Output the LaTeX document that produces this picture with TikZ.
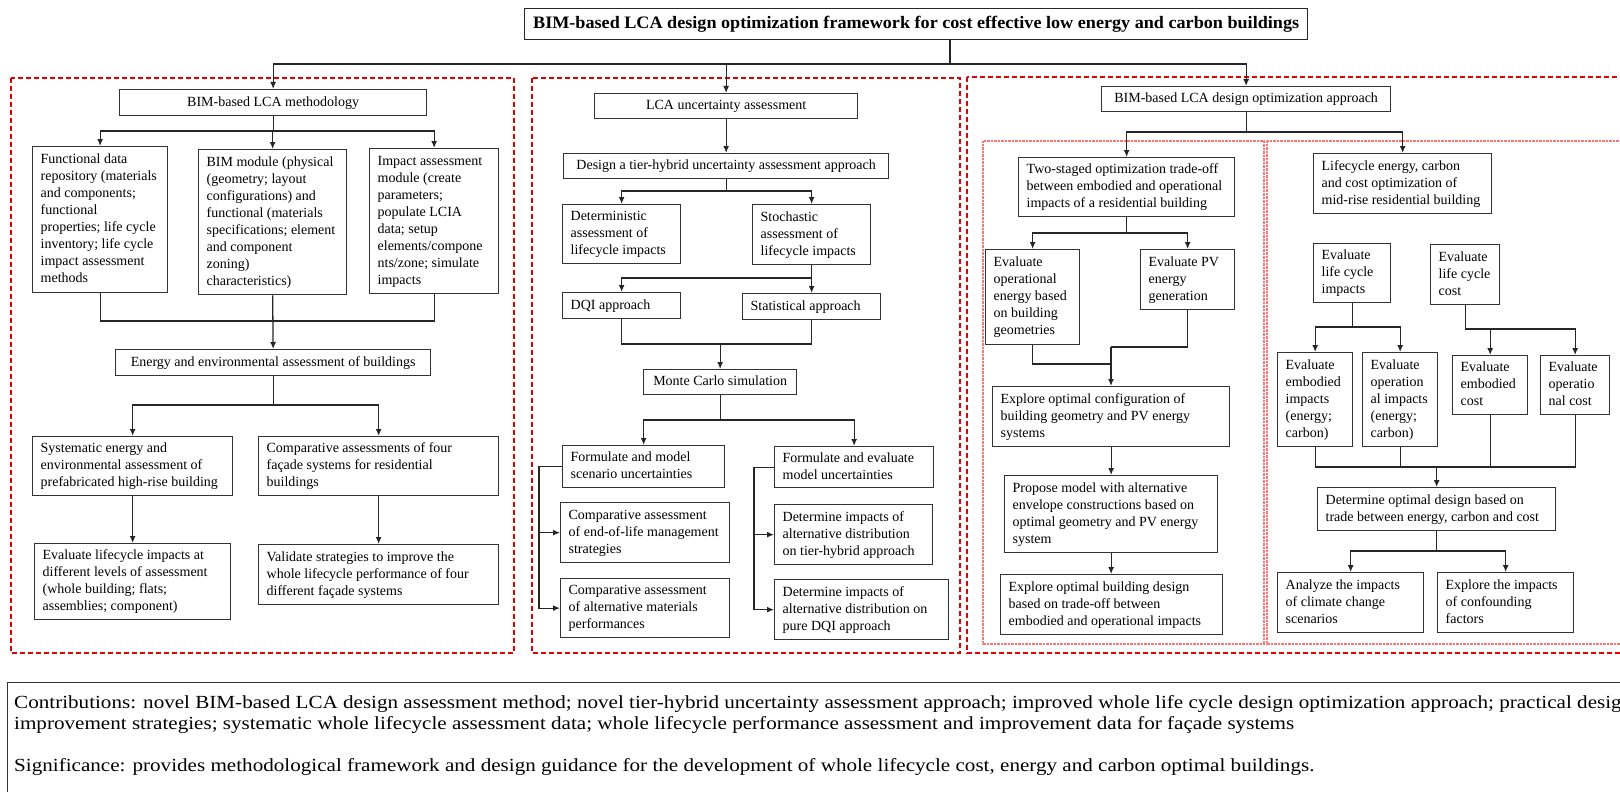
\documentclass[tikz,border=0pt]{standalone}
\usepackage{fontspec}
\setmainfont{Liberation Serif}
\usepackage{graphicx}
\usetikzlibrary{arrows.meta}
\newlength\lenA
\newlength\lenB
\newcommand\titlefont{\fontsize{17.5}{20}\selectfont\bfseries}
\newcommand\bottomfont{\fontsize{18.5}{21}\selectfont}
\newcommand\bx[7][l]{%
  \pgfmathsetmacro\myBW{#5-#3}%
  \pgfmathsetmacro\myBH{#6-#4}%
  \pgfmathsetmacro\myTW{#5-#3-16}%
  \node[box,minimum width=\myBW pt,minimum height=\myBH pt,anchor=north west] (#2) at (#3,#4)
    {\makebox[\myTW pt][#1]{\begin{tabular}{@{}#1@{}}#7\end{tabular}}};}
\begin{document}
\settowidth\lenA{\titlefont BIM-based LCA design optimization framework for cost effective low energy and carbon buildings}%
\pgfmathsetmacro\tfac{766/\lenA}%
\settowidth\lenB{\bottomfont improvement strategies; systematic whole lifecycle assessment data; whole lifecycle performance assessment and improvement data for façade systems}%
\pgfmathsetmacro\bfac{1280/\lenB}%
\begin{tikzpicture}[x=1pt,y=-1pt,
  box/.style={draw=black!80,line width=1.3pt,inner sep=0pt,font=\fontsize{14}{17}\selectfont},
  ln/.style={line width=1.3pt,draw=black!85},
  arr/.style={ln,-{Latex[length=7pt,width=6pt]}},
  reddash/.style={draw=red!90!black,line width=1.3pt,dash pattern=on 5pt off 3pt},
  reddot/.style={draw=red!55,line width=2.2pt,dash pattern=on 0.7pt off 0.7pt}]
\useasboundingbox (0,0) rectangle (1620,792);
\fill[white] (0,0) rectangle (1620,792);

% frames
\draw[reddash] (11,78) rectangle (514,653);
\draw[reddash] (532,78) rectangle (960,653);
\draw[reddash] (967,77) rectangle (1640,653);
\draw[reddot] (983,141) rectangle (1264,644);
\draw[reddot] (1267,141) rectangle (1640,644);

% title
\node[draw=black!85,line width=1.3pt,minimum width=783pt,minimum height=31pt,inner sep=0,anchor=north west] (title) at (524,8)
  {\scalebox{\tfac}[1]{\titlefont BIM-based LCA design optimization framework for cost effective low energy and carbon buildings}};

% left column
\bx[c]{l0}{119}{89}{426}{115}{BIM-based LCA methodology}
\bx{l1}{32}{146}{167}{292}{Functional data\\repository (materials\\and components;\\functional\\properties; life cycle\\inventory; life cycle\\impact assessment\\methods}
\bx{l2}{198}{149}{346}{294}{BIM module (physical\\(geometry; layout\\configurations)  and\\functional (materials\\specifications; element\\and component\\zoning)\\characteristics)}
\bx{l3}{369}{148}{498}{293}{Impact assessment\\module (create\\parameters;\\populate LCIA\\data; setup\\elements/compone\\nts/zone; simulate\\impacts}
\bx[c]{l4}{115}{349}{430}{375}{Energy and environmental assessment of buildings}
\bx{l5}{32}{436}{232}{495}{Systematic energy and\\environmental assessment of\\prefabricated high-rise building}
\bx{l6}{258}{436}{498}{495}{Comparative assessments of four\\façade systems for residential\\buildings}
\bx{l7}{34}{543}{230}{619}{Evaluate lifecycle impacts at\\different levels of assessment\\(whole building; flats;\\assemblies; component)}
\bx{l8}{258}{544}{498}{604}{Validate strategies to improve the\\whole lifecycle performance of four\\different façade systems}

% middle column
\bx[c]{m0}{594}{93}{857}{118}{LCA uncertainty assessment}
\bx[c]{m1}{563}{153}{888}{178}{Design a tier-hybrid uncertainty assessment approach}
\bx{m2}{562}{204}{680}{263}{Deterministic\\assessment of\\lifecycle impacts}
\bx{m3}{752}{204}{870}{264}{Stochastic\\assessment of\\lifecycle impacts}
\bx{m4}{562}{292}{680}{318}{DQI approach}
\bx{m5}{742}{293}{880}{319}{Statistical approach}
\bx[c]{m6}{643}{369}{796}{394}{Monte Carlo simulation}
\bx{m7}{562}{445}{724}{487}{Formulate and model\\scenario uncertainties}
\bx{m8}{774}{446}{933}{487}{Formulate and evaluate\\model uncertainties}
\bx{m9}{560}{502}{729}{562}{Comparative assessment\\of end-of-life management\\strategies}
\bx{m10}{560}{578}{729}{637}{Comparative assessment\\of alternative materials\\performances}
\bx{m11}{774}{504}{932}{564}{Determine impacts of\\alternative distribution\\on tier-hybrid approach}
\bx{m12}{774}{579}{948}{639}{Determine impacts of\\alternative distribution on\\pure DQI approach}

% right part
\bx[c]{r0}{1101}{86}{1390}{111}{BIM-based LCA design optimization approach}
\bx{r1}{1018}{157}{1234}{216}{Two-staged optimization trade-off\\between embodied and operational\\impacts of a residential building}
\bx{r2}{985}{249}{1079}{344}{Evaluate\\operational\\energy based\\on building\\geometries}
\bx{r3}{1140}{249}{1234}{309}{Evaluate PV\\energy\\generation}
\bx{r4}{992}{386}{1229}{446}{Explore optimal configuration of\\building geometry and PV energy\\systems}
\bx{r5}{1004}{475}{1217}{552}{Propose model with alternative\\envelope constructions based on\\optimal geometry and PV energy\\system}
\bx{r6}{1000}{574}{1222}{634}{Explore optimal building design\\based on trade-off between\\embodied and operational impacts}
\bx{s0}{1313}{153}{1491}{213}{Lifecycle energy, carbon\\and cost optimization of\\mid-rise residential building}
\bx{s1}{1313}{243}{1390}{302}{Evaluate\\life cycle\\impacts}
\bx{s2}{1430}{244}{1499}{304}{Evaluate\\life cycle\\cost}
\bx{s3}{1277}{352}{1352}{446}{Evaluate\\embodied\\impacts\\(energy;\\carbon)}
\bx{s4}{1362}{352}{1437}{446}{Evaluate\\operation\\al impacts\\(energy;\\carbon)}
\bx{s5}{1452}{355}{1527}{414}{Evaluate\\embodied\\cost}
\bx{s6}{1540}{355}{1609}{414}{Evaluate\\operatio\\nal cost}
\bx{s7}{1317}{487}{1555}{530}{Determine optimal design based on\\trade between energy, carbon and cost}
\bx{s8}{1277}{572}{1423}{632}{Analyze the impacts\\of climate change\\scenarios}
\bx{s9}{1437}{572}{1573}{632}{Explore the impacts\\of confounding\\factors}

% top connectors
\coordinate (tj) at (950,64);
\draw[ln] (title.south -| tj) -- (tj);
\draw[arr] (tj) -| (l0.north);
\draw[arr] (tj) -| (m0.north);
\draw[arr] (tj) -| (r0.north);

% left connectors
\coordinate (lb1) at (272,131);
\draw[ln] (l0.south) -- (l0.south |- lb1);
\draw[arr] (l0.south |- lb1) -| (l1.north);
\draw[arr] (l2.north |- lb1) -- (l2.north);
\draw[arr] (l0.south |- lb1) -| (l3.north);
\coordinate (lj1) at (272,321);
\draw[ln] (l1.south) |- (lj1);
\draw[ln] (l3.south) |- (lj1);
\draw[arr] (l2.south) -- (l4.north);
\coordinate (lb2) at (272,405);
\draw[ln] (l4.south) -- (l4.south |- lb2);
\draw[arr] (l4.south |- lb2) -| (l5.north);
\draw[arr] (l4.south |- lb2) -| (l6.north);
\draw[arr] (l5.south) -- (l7.north);
\draw[arr] (l6.south) -- (l8.north);

% middle connectors
\draw[arr] (m0.south) -- (m1.north);
\coordinate (mb1) at (725,191);
\draw[ln] (m1.south) -- (m1.south |- mb1);
\draw[arr] (m1.south |- mb1) -| (m2.north);
\draw[arr] (m1.south |- mb1) -| (m3.north);
\coordinate (mb2) at (811,278);
\draw[arr] (m3.south) -- (m5.north);
\draw[arr] (m3.south |- mb2) -| (m4.north);
\coordinate (mj) at (719,344);
\draw[ln] (m4.south) |- (mj);
\draw[ln] (m5.south) |- (mj);
\draw[arr] (m6.north |- mj) -- (m6.north);
\coordinate (mb3) at (719,420);
\draw[ln] (m6.south) -- (m6.south |- mb3);
\draw[arr] (m6.south |- mb3) -| (m7.north);
\draw[arr] (m6.south |- mb3) -| (m8.north);
\coordinate (bl) at (539,466);
\coordinate (br) at (754,466);
\draw[arr] (m7.west) -- (m7.west -| bl) |- (m10.west);
\draw[arr] (m9.west -| bl) -- (m9.west);
\draw[arr] (m8.west) -- (m8.west -| br) |- (m12.west);
\draw[arr] (m11.west -| br) -- (m11.west);

% right connectors
\coordinate (rb1) at (1246,132);
\draw[ln] (r0.south) -- (r0.south |- rb1);
\draw[arr] (r0.south |- rb1) -| (r1.north);
\draw[arr] (r0.south |- rb1) -| (s0.north);
\coordinate (rb2) at (1126,233);
\draw[ln] (r1.south) -- (r1.south |- rb2);
\draw[arr] (r1.south |- rb2) -| (r2.north);
\draw[arr] (r1.south |- rb2) -| (r3.north);
\coordinate (rj1) at (1111,364);
\coordinate (rj2) at (1111,347);
\draw[ln] (r2.south) |- (rj1);
\draw[ln] (r3.south) |- (rj2);
\draw[arr] (rj2) -- (rj2 |- r4.north);
\draw[arr] (r4.south) -- (r5.north);
\draw[arr] (r5.south) -- (r5.south |- r6.north);

\coordinate (sb1) at (0,327);
\draw[ln] (s1.south) -- (s1.south |- sb1);
\draw[arr] (s1.south |- sb1) -| (s3.north);
\draw[arr] (s1.south |- sb1) -| (s4.north);
\coordinate (sb2) at (0,329);
\draw[ln] (s2.south) -- (s2.south |- sb2);
\draw[arr] (s2.south |- sb2) -| (s5.north);
\draw[arr] (s2.south |- sb2) -| (s6.north);
\coordinate (sj) at (1436,467);
\draw[ln] (s3.south) |- (sj);
\draw[ln] (s6.south) |- (sj);
\draw[ln] (s4.south) -- (s4.south |- sj);
\draw[ln] (s5.south) -- (s5.south |- sj);
\draw[arr] (s7.north |- sj) -- (s7.north);
\coordinate (sb3) at (0,551);
\draw[ln] (s7.south) -- (s7.south |- sb3);
\draw[arr] (s7.south |- sb3) -| (s8.north);
\draw[arr] (s7.south |- sb3) -| (s9.north);

% bottom box
\node[draw=black!80,line width=1.3pt,anchor=north west,minimum width=1700pt,minimum height=150pt,inner sep=0] (contrib) at (7,682) {};
\node[anchor=base west,inner sep=0,font=\bottomfont] (c1) at (14,708) {\scalebox{\bfac}[1]{Contributions: novel BIM-based LCA design assessment method; novel tier-hybrid uncertainty assessment approach; improved whole life cycle design optimization approach; practical design}};
\node[anchor=base west,inner sep=0,font=\bottomfont] (c2) at (14,729) {\scalebox{\bfac}[1]{improvement strategies; systematic whole lifecycle assessment data; whole lifecycle performance assessment and improvement data for façade systems}};
\node[anchor=base west,inner sep=0,font=\bottomfont] (c3) at (14,771) {\scalebox{\bfac}[1]{Significance: provides methodological framework and design guidance for the development of whole lifecycle cost, energy and carbon optimal buildings.}};
\end{tikzpicture}
\end{document}
